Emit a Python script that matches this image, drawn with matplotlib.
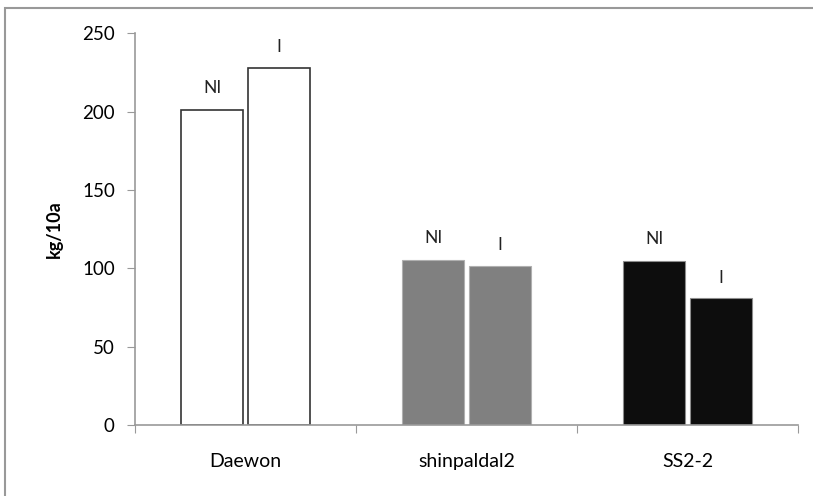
import numpy as np
import matplotlib.pyplot as plt
from matplotlib.patches import Rectangle

cultivars = ["Daewon", "shinpaldal2", "SS2-2"]
ni_values = [201, 105.5, 104.6]
i_values = [228, 101.5, 81]
bar_colors = ["white", "#808080", "#0d0d0d"]
edge_colors = ["#333333", "#b0b0b0", "#8c8c8c"]

plt.rcParams['font.family'] = ['Lato', 'DejaVu Sans']

fig = plt.figure(figsize=(8.13, 4.96), dpi=100)
ax = fig.add_axes([0.166, 0.1431, 0.8155, 0.7898])

x = np.arange(len(cultivars))
w = 0.28
gap = 0.0105
for xi, ni, iv, c, ec in zip(x, ni_values, i_values, bar_colors, edge_colors):
    lw = 1.2 if c == "white" else 0.8
    ax.bar(xi - w / 2 - gap, ni, w, color=c, edgecolor=ec, linewidth=lw)
    ax.bar(xi + w / 2 + gap, iv, w, color=c, edgecolor=ec, linewidth=lw)
    ax.annotate("NI", (xi - w / 2 - gap, ni), xytext=(0, 10), textcoords="offset points",
                ha="center", va="bottom", fontsize=12.5, color="#222222")
    ax.annotate("I", (xi + w / 2 + gap, iv), xytext=(0, 9), textcoords="offset points",
                ha="center", va="bottom", fontsize=12.5, color="#222222")

ax.set_xlim(-0.5, 2.5)
ax.set_ylim(0, 250)
ax.set_yticks([0, 50, 100, 150, 200, 250])
ax.set_xticks([-0.5, 0.5, 1.5, 2.5])
ax.set_xticklabels([])
ax.set_xticks(x, minor=True)
ax.set_xticklabels(cultivars, minor=True)
ax.tick_params(axis="x", which="minor", length=0, pad=20, labelsize=14)
ax.tick_params(axis="x", which="major", length=6, color="#999999")
ax.tick_params(axis="y", length=5.5, color="#999999", labelsize=13.5, pad=9)

for s in ["top", "right"]:
    ax.spines[s].set_visible(False)
for s in ["left", "bottom"]:
    ax.spines[s].set_color("#999999")
    ax.spines[s].set_linewidth(1.2)

ax.set_ylabel("kg/10a", fontweight="bold", fontsize=13, labelpad=14)

fig.patches.append(Rectangle((0.006, -0.01), 1.0, 0.993, transform=fig.transFigure,
                             fill=False, edgecolor="#999999", linewidth=1.5))

fig.savefig("out.png", dpi=100)
